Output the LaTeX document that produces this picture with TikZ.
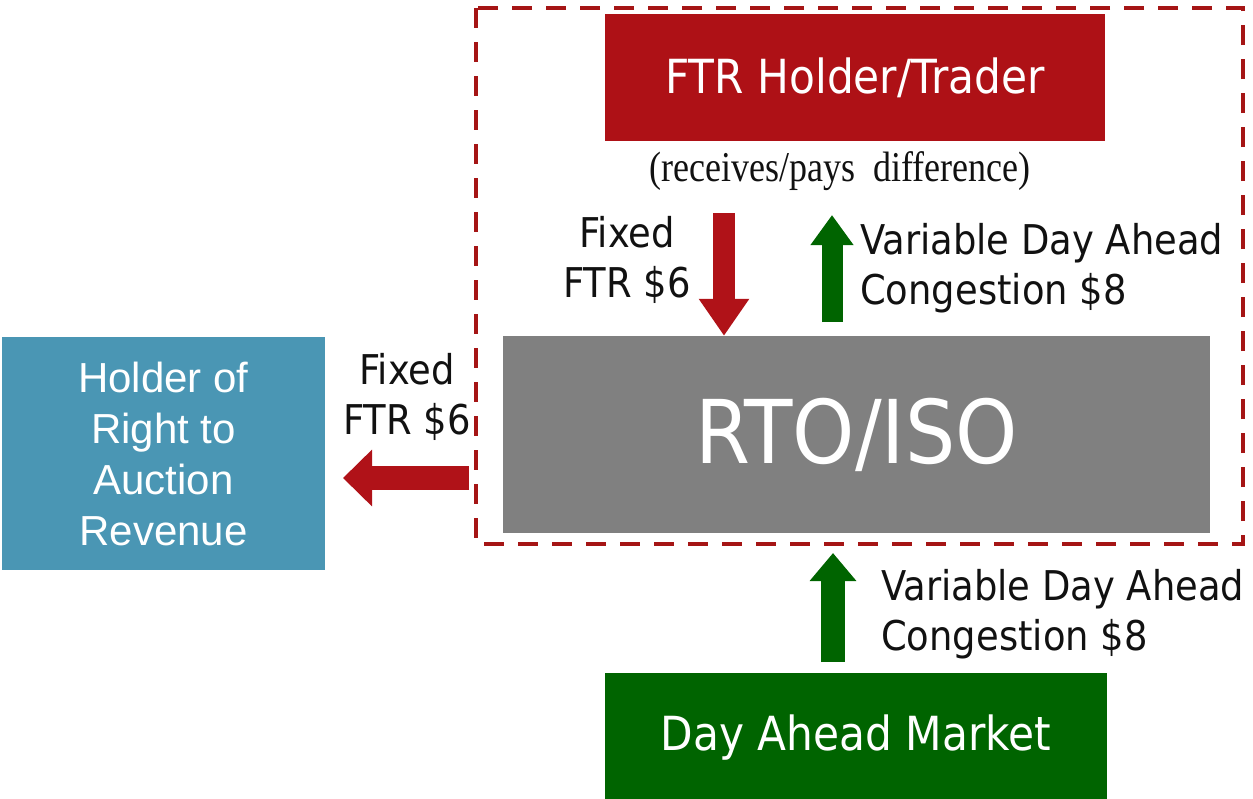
\documentclass[tikz,border=0pt]{standalone}
\usepackage{fontspec}
\usetikzlibrary{arrows.meta}
\newfontfamily\vfont[FakeStretch=0.9]{DejaVu Sans}
\newfontfamily\afont{Liberation Sans}
\newfontfamily\tfont{Liberation Serif}
\definecolor{ftrred}{HTML}{AE1116}
\definecolor{arrred}{HTML}{B01218}
\definecolor{dashred}{HTML}{A51515}
\definecolor{rtogray}{HTML}{808080}
\definecolor{holderblue}{HTML}{4A96B4}
\definecolor{damgreen}{HTML}{006400}
\definecolor{txt}{HTML}{111111}
\tikzset{
  box/.style={rectangle, inner sep=0pt, text=white, align=center},
  lbl/.style={inner sep=0pt, text=txt, font=\vfont\fontsize{41}{50}\selectfont},
  redarrow/.style={draw=arrred, line width=#1},
  greenarrow/.style={draw=damgreen, line width=#1},
}
\begin{document}
\begin{tikzpicture}[x=1pt, y=-1pt]
\useasboundingbox (0,0) rectangle (1253,798);
% boxes
\node[box, fill=ftrred, minimum width=500pt, minimum height=127pt,
      font=\vfont\fontsize{47}{56}\selectfont] (ftr) at (855,77.5) {\raisebox{-2pt}{FTR Holder/Trader}};
\node[inner sep=0pt, text=txt, font=\tfont\fontsize{36}{42}\selectfont] (diff) at (840,171) {\scalebox{1}[1.18]{(receives/pays\ \ difference)}};
\node[box, fill=rtogray, minimum width=707pt, minimum height=197pt,
      font=\vfont\fontsize{88}{100}\selectfont] (rto) at (856.5,434.5) {\raisebox{-3pt}{RTO/ISO}};
\node[box, fill=holderblue, minimum width=323pt, minimum height=233pt,
      font=\afont\fontsize{42}{51}\selectfont] (holder) at (163.5,453.5) {Holder of\\Right to\\Auction\\Revenue};
\node[box, fill=damgreen, minimum width=502pt, minimum height=130pt,
      font=\vfont\fontsize{47}{56}\selectfont] (dam) at (856,738) {Day Ahead Market};
% dashed frame
\draw[dashred, line width=4.5pt, dash pattern=on 20pt off 14pt] (476,8) rectangle (1243,544);
% labels
\node[lbl, align=center] (l1) at (627,260) {Fixed\\FTR \$6};
\node[lbl, align=left, anchor=west] (l2) at (860,268) {Variable Day Ahead\\Congestion \$8};
\node[lbl, align=center] (l3) at (407,397) {Fixed\\FTR \$6};
\node[lbl, align=left, anchor=west] (l4) at (881,614) {Variable Day Ahead\\Congestion \$8};
% arrows
\coordinate (a1s) at (724,213);
\draw[redarrow=22pt, -{Triangle[width=48pt,length=37pt]}] (a1s) -- (a1s |- rto.north);
\coordinate (a2s) at (832,322);
\coordinate (a2e) at (832,215);
\draw[greenarrow=21pt, -{Triangle[width=41pt,length=30pt]}] (a2s) -- (a2e);
\coordinate (a3s) at (469,478);
\coordinate (a3e) at (343,478);
\draw[redarrow=24pt, -{Triangle[width=55pt,length=29pt]}] (a3s) -- (a3e);
\coordinate (a4s) at (833,662);
\coordinate (a4e) at (833,553);
\draw[greenarrow=24pt, -{Triangle[width=45pt,length=28pt]}] (a4s) -- (a4e);
\end{tikzpicture}
\end{document}
